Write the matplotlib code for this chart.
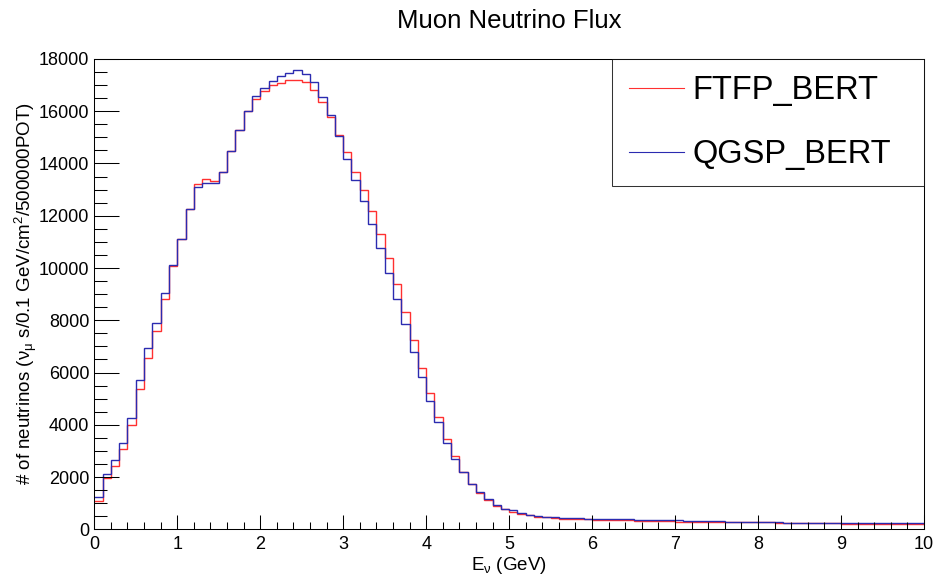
import matplotlib
matplotlib.use('Agg')
import matplotlib.pyplot as plt
import numpy as np
from matplotlib.ticker import MultipleLocator

plt.rcParams['font.family'] = ['Liberation Sans', 'DejaVu Sans']
plt.rcParams['mathtext.fontset'] = 'custom'
plt.rcParams['mathtext.rm'] = 'Liberation Sans'
plt.rcParams['mathtext.it'] = 'Liberation Sans'
plt.rcParams['mathtext.bf'] = 'Liberation Sans:bold'

# 100 bins of 0.1 GeV between 0 and 10 GeV
edges = np.linspace(0.0, 10.0, 101)

ftfp_bert = [
    1100, 1950, 2430, 3060, 4000, 5380, 6560, 7590, 8820, 10060,
    11100, 12260, 13200, 13400, 13330, 13670, 14460, 15300, 16000, 16460,
    16780, 17000, 17070, 17190, 17210, 17110, 16800, 16350, 15790, 15100,
    14440, 13690, 12970, 12180, 11320, 10380, 9390, 8320, 7250, 6170,
    5200, 4290, 3470, 2800, 2190, 1750, 1380, 1120, 905, 765,
    650, 575, 535, 485, 455, 430, 410, 395, 385, 380,
    362, 360, 358, 356, 354, 330, 328, 326, 324, 322,
    296, 294, 292, 290, 288, 286, 284, 282, 280, 278,
    262, 260, 258, 256, 254, 250, 248, 246, 244, 242,
    215, 213, 212, 210, 208, 207, 206, 205, 204, 203,
]

qgsp_bert = [
    1220, 2110, 2665, 3285, 4270, 5700, 6920, 7890, 9030, 10120,
    11100, 12260, 13110, 13250, 13250, 13670, 14460, 15300, 16000, 16580,
    16890, 17170, 17340, 17470, 17560, 17420, 17120, 16540, 15850, 15040,
    14180, 13365, 12560, 11685, 10780, 9810, 8820, 7860, 6800, 5810,
    4920, 4100, 3320, 2690, 2190, 1750, 1410, 1145, 940, 790,
    725, 635, 560, 520, 480, 455, 445, 430, 420, 408,
    390, 388, 386, 385, 384, 358, 357, 356, 356, 355,
    355, 318, 318, 317, 317, 316, 282, 281, 281, 280,
    280, 280, 280, 254, 254, 254, 253, 253, 253, 253,
    253, 253, 252, 252, 252, 252, 252, 252, 252, 232,
]

fig = plt.figure(figsize=(9.37, 5.76), dpi=100)
ax = fig.add_axes([0.1006, 0.0811, 0.8855, 0.8165])

ax.stairs(ftfp_bert, edges, baseline=None, color='#ff3030', lw=1.0, label='FTFP_BERT')
ax.stairs(qgsp_bert, edges, baseline=None, color='#2b2bb0', lw=1.0, label='QGSP_BERT')

ax.set_xlim(0, 10)
ax.set_ylim(0, 18000)

ax.xaxis.set_major_locator(MultipleLocator(1))
ax.xaxis.set_minor_locator(MultipleLocator(0.2))
ax.yaxis.set_major_locator(MultipleLocator(2000))
ax.yaxis.set_minor_locator(MultipleLocator(500))

ax.tick_params(axis='both', which='both', direction='in', width=0.75, color='black',
               labelsize=13, top=False, right=False)
ax.tick_params(axis='x', which='major', length=10.2, pad=5)
ax.tick_params(axis='x', which='minor', length=5.1)
ax.tick_params(axis='y', which='major', length=17.8, pad=3.6)
ax.tick_params(axis='y', which='minor', length=9.1)

for sp in ax.spines.values():
    sp.set_linewidth(0.75)
    sp.set_color('black')

ax.set_xlabel(r'E$_{\nu}$ (GeV)', fontsize=13.5, labelpad=1)
ax.set_ylabel(r'# of neutrinos ($\nu_{\mu}$ s/0.1 GeV/cm$^{2}$/500000POT)', fontsize=13.5, labelpad=0)
ax.set_title('Muon Neutrino Flux', fontsize=18.5, pad=22)

leg = ax.legend(loc='upper left', bbox_to_anchor=(0.6243, 0.0, 0.3757, 1.0), mode='expand',
                borderaxespad=0, fontsize=23.5, frameon=True, fancybox=False,
                handlelength=1.7, handletextpad=0.27, labelspacing=1.0, borderpad=0.5)
leg.get_frame().set_edgecolor('black')
leg.get_frame().set_linewidth(0.75)
for line in leg.get_lines():
    line.set_linewidth(0.8)

fig.savefig('out.png', dpi=100)
